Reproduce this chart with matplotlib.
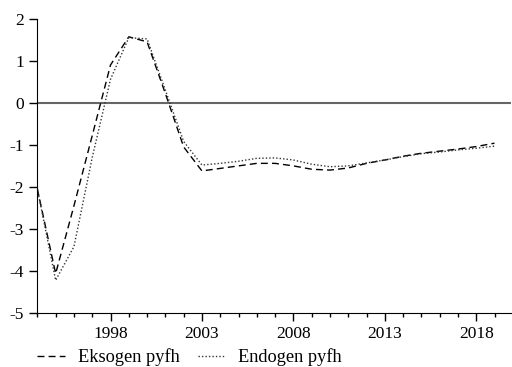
import matplotlib
matplotlib.use("Agg")
import matplotlib.pyplot as plt
from matplotlib.ticker import MultipleLocator, FixedLocator

plt.rcParams['font.family'] = ['Liberation Serif', 'DejaVu Serif']
plt.rcParams['axes.unicode_minus'] = False

years = list(range(1994, 2020))
# Eksogen pyfh (dashed)
eksogen = [-2.05, -4.06, -2.45, -0.78, 0.90, 1.57, 1.45, 0.22, -1.05, -1.62,
           -1.56, -1.50, -1.44, -1.44, -1.50, -1.58, -1.60, -1.55, -1.44, -1.36,
           -1.27, -1.20, -1.15, -1.10, -1.04, -0.96]
# Endogen pyfh (dotted)
endogen = [-2.05, -4.22, -3.42, -1.30, 0.56, 1.55, 1.52, 0.30, -0.92, -1.48,
           -1.44, -1.39, -1.32, -1.31, -1.36, -1.46, -1.52, -1.50, -1.43, -1.36,
           -1.28, -1.21, -1.17, -1.12, -1.08, -1.03]

fig = plt.figure(figsize=(5.12, 3.67), dpi=100)
ax = fig.add_axes([0.073, 0.147, 0.925, 0.802])

ax.axhline(0, color='#666666', lw=1.5, zorder=1)
ax.plot(years, eksogen, color='black', lw=1, linestyle=(0, (5, 3)), label='Eksogen pyfh')
ax.plot(years, endogen, color='#333333', lw=1, linestyle=(0, (1, 1.5)), label='Endogen pyfh')

ax.set_xlim(1994, 2019.9)
ax.set_ylim(-5, 2)
ax.xaxis.set_major_locator(FixedLocator([1998, 2003, 2008, 2013, 2018]))
ax.xaxis.set_minor_locator(MultipleLocator(1))
ax.yaxis.set_major_locator(MultipleLocator(1))

ax.spines['top'].set_visible(False)
ax.spines['right'].set_visible(False)
ax.tick_params(axis='both', which='major', length=6, width=1, labelsize=12.5, direction='out')
ax.tick_params(axis='x', which='minor', length=3, width=1, direction='out')
ax.tick_params(axis='x', which='major', pad=3)

ax.legend(loc='upper left', bbox_to_anchor=(0.0, -0.12), ncol=2, frameon=False,
          fontsize=13.2, handlelength=1.5, handletextpad=0.7, columnspacing=1.0,
          borderaxespad=0, borderpad=0)

fig.savefig('out.png', dpi=100)
